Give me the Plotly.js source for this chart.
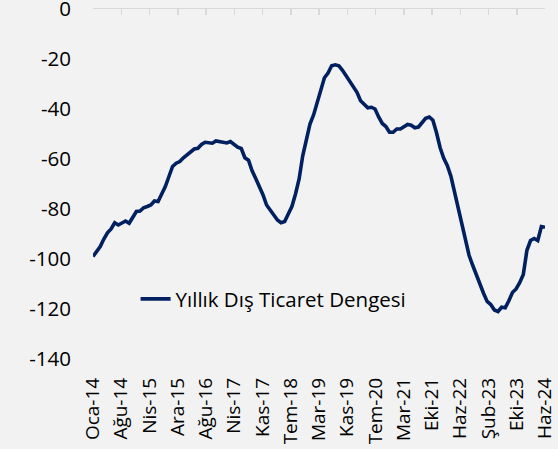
<!DOCTYPE html>
<html><head><meta charset="utf-8">
<script src="https://cdn.plot.ly/plotly-3.0.1.min.js"></script>
<style>html,body{margin:0;padding:0;background:#f2f2f2}</style>
</head><body><div id="chart" style="width:558px;height:449px"></div>
<script>
const seriesName = "Yıllık Dış Ticaret Dengesi";
const monthNames = ["Oca","Şub","Mar","Nis","May","Haz","Tem","Ağu","Eyl","Eki","Kas","Ara"];
const startYear = 2014;
// monthly values, Oca-14 .. Haz-24
const values = [
  -99, -97, -95, -92, -89.5, -88, -85.5, -86.4, -85.5, -84.8, -85.7, -83.5,
  -81, -80.8, -79.5, -79, -78.4, -76.8, -77, -74, -71, -67, -63, -61.7,
  -61, -59.5, -58.3, -57.3, -56, -55.7, -54.2, -53.3, -53.5, -53.7, -52.8, -53,
  -53.3, -53.6, -53, -54, -55.3, -55.8, -59.5, -60.5, -64.7, -67.8, -70.8, -74.3,
  -78.4, -80.5, -82.5, -84.4, -85.5, -85, -82, -79, -74, -68, -58.7, -52,
  -46, -42.4, -37.8, -32.5, -27.5, -25.6, -22.7, -22.3, -22.7, -24.5, -26.8, -29.2,
  -31.6, -33.3, -36.7, -38.3, -39.5, -39.3, -40, -43.2, -45.8, -47, -49.3, -49.3,
  -48, -48, -47, -46.2, -46.5, -47.5, -47.2, -45.2, -43.7, -43.2, -44.5, -49.5,
  -55.5, -59.7, -62.7, -67, -73.3, -80, -86.7, -93.3, -98.5, -102.5, -106.5, -109.5,
  -113.7, -117, -118.2, -120.4, -121, -119.3, -119.5, -116.7, -113.4, -112, -109.5, -106.2,
  -96.5, -92.6, -91.8, -92.6, -87, -87.3
];
const tickLabels = ["Oca-14","Ağu-14","Nis-15","Ara-15","Ağu-16","Nis-17","Kas-17","Tem-18","Mar-19","Kas-19","Tem-20","Mar-21","Eki-21","Haz-22","Şub-23","Eki-23","Haz-24"];
const yTicks = [0, -20, -40, -60, -80, -100, -120, -140];

const n = values.length;
const x = values.map((_, i) => i);
const monthLabels = values.map((_, i) => monthNames[i % 12] + "-" + String((startYear + Math.floor(i / 12)) % 100).padStart(2, "0"));
const tickVals = tickLabels.map((_, k) => k * (n - 1) / (tickLabels.length - 1));

const FONT = "Open Sans, Noto Sans, sans-serif";
const traces = [
  {
    x: x, y: values, customdata: monthLabels, type: "scatter", mode: "lines", name: seriesName,
    line: {color: "#002060", width: 3.6}, hovertemplate: "%{customdata}: %{y}<extra></extra>"
  },
  {
    x: x, y: values, xaxis: "x2", type: "scatter", mode: "lines", showlegend: false,
    hoverinfo: "skip", opacity: 0, line: {width: 0}
  }
];
const layout = {
  width: 558, height: 449,
  paper_bgcolor: "#f2f2f2", plot_bgcolor: "#f2f2f2",
  margin: {l: 93, r: 13, t: 9, b: 90, pad: 0, autoexpand: false},
  font: {family: FONT, size: 19, color: "#000"},
  showlegend: true,
  legend: {
    xref: "container", yref: "container", x: 0.243, y: 0.334,
    xanchor: "left", yanchor: "middle", bgcolor: "rgba(0,0,0,0)",
    font: {family: FONT, size: 20.5, color: "#000"}, itemwidth: 30
  },
  xaxis: {
    range: [0, n - 1], tickvals: tickVals, ticktext: tickLabels, tickangle: -90, automargin: false,
    ticks: "", showline: false, showgrid: false, zeroline: false,
    tickfont: {family: FONT, size: 19, color: "#000"}, ticklabelstandoff: 14
  },
  xaxis2: {
    overlaying: "x", side: "top", range: [0, n - 1], tickvals: tickVals, automargin: false,
    showticklabels: false, ticks: "inside", ticklen: 6, tickwidth: 1.5, tickcolor: "#d9d9d9",
    showline: true, linecolor: "#d9d9d9", linewidth: 1.5, showgrid: false, zeroline: false
  },
  yaxis: {
    range: [-140, 0.001], tickvals: yTicks, ticktext: yTicks.map(String), automargin: false,
    ticks: "", showline: false, showgrid: false, zeroline: false, ticklabeloverflow: "allow",
    tickfont: {family: FONT, size: 20.5, color: "#000"}, ticklabelstandoff: 21
  }
};
Plotly.newPlot("chart", traces, layout, {displayModeBar: false, staticPlot: true});
</script></body></html>
